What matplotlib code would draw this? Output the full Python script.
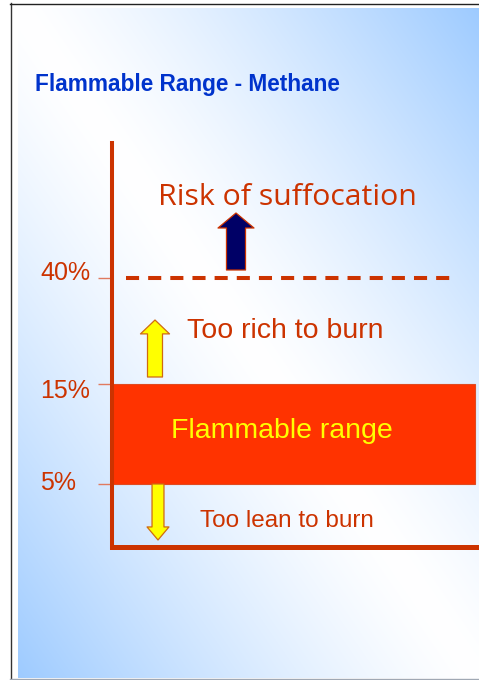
import numpy as np
import matplotlib
matplotlib.use('Agg')
import matplotlib.pyplot as plt
from matplotlib.patches import ConnectionPatch
from matplotlib.transforms import offset_copy
from matplotlib.lines import Line2D

# ---------------- data ----------------
levels = [5, 15, 40]
level_labels = ['5%', '15%', '40%']
lower_limit = 5
upper_limit = 15
suffocation_limit = 40
title = 'Flammable Range - Methane'
zone_labels = ['Too lean to burn', 'Flammable range', 'Too rich to burn', 'Risk of suffocation']

# ---------------- figure ----------------
W, H = 479, 680
fig = plt.figure(figsize=(W / 100, H / 100), dpi=100)
fig.patch.set_facecolor('white')

# background gradient (white diagonal, blue corners)
bg = fig.add_axes([18 / W, 2 / H, (W - 18) / W, (678 - 8) / H])
u = np.linspace(0, 1, 300)
v = np.linspace(0, 1, 420)
U, V = np.meshgrid(u, v)
t = np.clip(np.abs(U - V), 0, 1) ** 1.3
white = np.array([1.0, 1.0, 1.0])
blue = np.array([158, 203, 255]) / 255
img = white[None, None, :] * (1 - t[..., None]) + blue[None, None, :] * t[..., None]
bg.imshow(img, aspect='auto', extent=[0, 1, 1, 0], interpolation='bilinear')
bg.axis('off')

# frame lines
fig.add_artist(Line2D([10.5 / W, 10.5 / W], [0, 1 - 3 / H], color='#333333', lw=1,
                      transform=fig.transFigure))
fig.add_artist(Line2D([10 / W, 1], [1 - 3.5 / H, 1 - 3.5 / H], color='#222222', lw=1,
                      transform=fig.transFigure))
fig.add_artist(Line2D([10 / W, 1], [1 - 678.5 / H, 1 - 678.5 / H], color='#a0a8b4', lw=1,
                      transform=fig.transFigure))

# title
fig.text(35 / W, 1 - 91 / H, title, fontsize=16.3, fontweight='bold', color='#0033cc',
         family='Liberation Sans', va='baseline', ha='left')

# ---------------- main axes ----------------
ax = fig.add_axes([112 / W, 133 / H, (W - 112) / W, 404 / H])
ax.patch.set_alpha(0)

# schematic (piecewise) vertical scale
scale_vals = [0, 5, 15, 40, 70]
scale_pos = [0, 63, 163, 269, 404]


def fwd(y):
    return np.interp(y, scale_vals, scale_pos)


def inv(p):
    return np.interp(p, scale_pos, scale_vals)


ax.set_yscale('function', functions=(fwd, inv))
ax.set_ylim(0, 70)
ax.set_xlim(0, 1)

red = '#cc3300'
for s in ['top', 'right']:
    ax.spines[s].set_visible(False)
ax.spines['left'].set_color(red)
ax.spines['left'].set_linewidth(2.9)
ax.spines['bottom'].set_color(red)
ax.spines['bottom'].set_linewidth(3.6)
ax.spines['left'].set_capstyle('projecting')
ax.spines['bottom'].set_capstyle('projecting')

ax.set_xticks([])
ax.set_yticks(levels)
ax.set_yticklabels(level_labels, ha='left', fontsize=18, color=red, family='Liberation Sans')
ax.tick_params(axis='y', length=10, width=1, color='#e07a5f', direction='out', pad=41.5)
ax.yaxis.set_minor_locator(matplotlib.ticker.NullLocator())
# small vertical nudges of the tick labels (as in the original slide)
for tick, dy in zip(ax.yaxis.get_major_ticks(), [3, -4, 7]):
    lab = tick.label1
    lab.set_transform(offset_copy(lab.get_transform(), fig=fig, x=0, y=dy, units='dots'))

# flammable range band
ax.bar(0, upper_limit - lower_limit, bottom=lower_limit, width=363 / 367, align='edge',
       color='#ff3300', edgecolor='#e04a20', lw=0.8, zorder=2)

# suffocation threshold
ax.hlines(suffocation_limit, 14 / 367, 345 / 367, colors=red, lw=2.9,
          linestyles=[(0, (3.25, 2.25))], zorder=2)


def arrow(x, level, dy0, dy1, face, edge, hw, hl, tw):
    tA = offset_copy(ax.transData, fig=fig, x=0, y=dy0, units='dots')
    tB = offset_copy(ax.transData, fig=fig, x=0, y=dy1, units='dots')
    cp = ConnectionPatch((x, level), (x, level), coordsA=tA, coordsB=tB,
                         arrowstyle=f'simple,head_length={hl},head_width={hw},tail_width={tw}',
                         fc=face, ec=edge, lw=0.9, shrinkA=0, shrinkB=0,
                         mutation_scale=1, zorder=3)
    ax.add_artist(cp)


arrow((155 - 112) / 367, upper_limit, 7, 64, '#ffff00', '#d06a10', 20.9, 10, 10.8)
arrow((158 - 112) / 367, lower_limit, 0, -56, '#ffff00', '#d06a10', 15.8, 9.4, 8.6)
arrow((236 - 112) / 367, suffocation_limit, 8, 65, '#000066', '#cc3300', 25.9, 10.8, 13.7)

# zone labels
ax.annotate(zone_labels[0], xy=((287 - 112) / 367, lower_limit), xytext=(0, -43),
            textcoords='offset pixels', ha='center', va='baseline', fontsize=17.5,
            color=red, family='Liberation Sans', zorder=4)
ax.annotate(zone_labels[1], xy=((282 - 112) / 367, lower_limit), xytext=(0, 46),
            textcoords='offset pixels', ha='center', va='baseline', fontsize=20.5,
            color='#ffff00', family='Liberation Sans', zorder=4)
ax.annotate(zone_labels[2], xy=((285 - 112) / 367, upper_limit), xytext=(0, 46),
            textcoords='offset pixels', ha='center', va='baseline', fontsize=20.5,
            color=red, family='Liberation Sans', zorder=4)
ax.annotate(zone_labels[3], xy=((287.5 - 112) / 367, suffocation_limit), xytext=(0, 73),
            textcoords='offset pixels', ha='center', va='baseline', fontsize=21.8,
            color=red, family='Open Sans', zorder=4)

fig.savefig('out.png', dpi=100)
